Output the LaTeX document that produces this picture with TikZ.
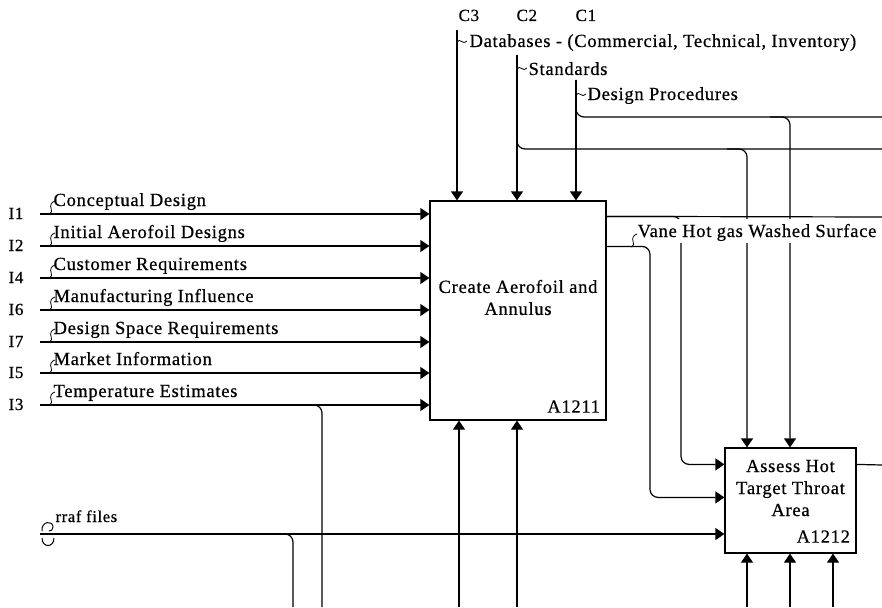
\documentclass[tikz,border=0pt]{standalone}
\usepackage{fontspec}
\setmainfont{Liberation Serif}[LetterSpace=4,FakeBold=0.6]
\usetikzlibrary{arrows.meta,positioning}

\begin{document}
\begin{tikzpicture}[x=1pt,y=-1pt,line width=1.2pt,
    flow/.style={-{Triangle[length=9pt,width=12pt]}},
    wire/.style={rounded corners=8pt},
    lbl/.style={inner sep=0pt,anchor=base west,font=\fontsize{18.5}{22}\selectfont},
    code/.style={inner sep=0pt,anchor=base west,font=\fontsize{17}{18}\selectfont},
    boxtext/.style={align=center,inner sep=0pt,font=\fontsize{18.5}{22}\selectfont},
    squig/.pic={\draw[line width=0.8pt] (0,0) .. controls (3,-1) and (3,-4) .. (2,-6) .. controls (1,-8) and (2,-12) .. (6,-13);},
    tilde/.pic={\draw[line width=0.8pt] (0,0) .. controls (3,-5) and (6,4) .. (10,-1);}
  ]
    \path[use as bounding box,fill=white] (0,0) rectangle (882,607);

    % activity boxes
    \node[draw,fill=white,minimum width=176pt,minimum height=219pt,inner sep=0pt] (a1211) at (518,310.5) {};
    \node[boxtext] (t1211) at ([yshift=13pt]a1211.center) {Create Aerofoil and\\Annulus};
    \node[lbl,anchor=base east] (n1211) at ([xshift=-6pt,yshift=8pt]a1211.south east) {A1211};

    \node[draw,fill=white,minimum width=131pt,minimum height=105pt,inner sep=0pt] (a1212) at (790.5,500.5) {};
    \node[boxtext] (t1212) at ([yshift=12.5pt]a1212.center) {Assess Hot\\Target Throat\\Area};
    \node[lbl,anchor=base east] (n1212) at ([xshift=-6pt,yshift=11pt]a1212.south east) {A1212};

    % inputs
    \coordinate (i1) at (40,214);
    \node[code] (lI1) at (8,219) {I1};
    \draw[flow] (i1) -- (i1 -| a1211.west);
    \pic at ([xshift=9pt]i1) {squig};
    \node[lbl] (tI1) at (53,206) {Conceptual Design};

    \coordinate (i2) at (40,246);
    \node[code] (lI2) at (8,251) {I2};
    \draw[flow] (i2) -- (i2 -| a1211.west);
    \pic at ([xshift=9pt]i2) {squig};
    \node[lbl] (tI2) at (53,238) {Initial Aerofoil Designs};

    \coordinate (i4) at (40,278);
    \node[code] (lI4) at (8,283) {I4};
    \draw[flow] (i4) -- (i4 -| a1211.west);
    \pic at ([xshift=9pt]i4) {squig};
    \node[lbl] (tI4) at (53,270) {Customer Requirements};

    \coordinate (i6) at (40,310);
    \node[code] (lI6) at (8,315) {I6};
    \draw[flow] (i6) -- (i6 -| a1211.west);
    \pic at ([xshift=9pt]i6) {squig};
    \node[lbl] (tI6) at (53,302) {Manufacturing Influence};

    \coordinate (i7) at (40,342);
    \node[code] (lI7) at (8,347) {I7};
    \draw[flow] (i7) -- (i7 -| a1211.west);
    \pic at ([xshift=9pt]i7) {squig};
    \node[lbl] (tI7) at (53,334) {Design Space Requirements};

    \coordinate (i5) at (40,373);
    \node[code] (lI5) at (8,378) {I5};
    \draw[flow] (i5) -- (i5 -| a1211.west);
    \pic at ([xshift=9pt]i5) {squig};
    \node[lbl] (tI5) at (53,365) {Market Information};

    \coordinate (i3) at (40,405);
    \node[code] (lI3) at (8,410) {I3};
    \draw[flow] (i3) -- (i3 -| a1211.west);
    \pic at ([xshift=9pt]i3) {squig};
    \node[lbl] (tI3) at (53,397) {Temperature Estimates};
    \coordinate (i3drop) at (322,607);
    \draw[wire] (i3) -| (i3drop);

    % tunnelled input
    \coordinate (rraf) at (40,534);
    \coordinate (rrafdrop) at (293,607);
    \draw[flow] (rraf) -- (rraf -| a1212.west);
    \draw[wire] (rraf) -| (rrafdrop);
    \draw[line width=1pt] (42,531) .. controls (41,521) and (53,520) .. (53,527) .. controls (53,530) and (51,531) .. (49,531);
    \draw[line width=1pt] (42,538) .. controls (42,548) and (54,548) .. (54,538);
    \node[lbl,font=\fontsize{16.5}{18}\selectfont] (tRraf) at (55,522) {rraf files};

    % controls
    \coordinate (c3) at (457,30);
    \node[code] (lC3) at (458,21) {C3};
    \draw[flow] (c3) -- (c3 |- a1211.north);
    \pic at ([yshift=-12pt]c3) {tilde};
    \node[lbl] (tC3) at (469,47) {Databases - (Commercial, Technical, Inventory)};

    \coordinate (c2) at (517,55);
    \coordinate (c2edge) at (882,149);
    \coordinate (c2drop) at (747,149);
    \node[code] (lC2) at (516,21) {C2};
    \draw[flow] (c2) -- (c2 |- a1211.north);
    \draw[wire] (c2) |- (c2edge);
    \draw[flow,wire] ([xshift=-20pt]c2drop) -| (c2drop |- a1212.north);
    \pic at ([yshift=-14pt]c2) {tilde};
    \node[lbl] (tC2) at (528,75) {Standards};

    \coordinate (c1) at (576,80);
    \coordinate (c1edge) at (882,117);
    \coordinate (c1drop) at (790,117);
    \node[code] (lC1) at (575,21) {C1};
    \draw[flow] (c1) -- (c1 |- a1211.north);
    \draw[wire] (c1) |- (c1edge);
    \draw[flow,wire] ([xshift=-20pt]c1drop) -| (c1drop |- a1212.north);
    \pic at ([yshift=-15pt]c1) {tilde};
    \node[lbl] (tC1) at (587,100) {Design Procedures};

    % outputs
    \coordinate (o1) at ([yshift=-16pt]a1211.north east);
    \coordinate (o2) at ([yshift=-46pt]a1211.north east);
    \coordinate (o1edge) at (882,217);
    \coordinate (v1) at (681,217);
    \coordinate (v2) at (650,247);
    \coordinate (h1) at ([yshift=-17pt]a1212.north west);
    \coordinate (h2) at ([yshift=-50pt]a1212.north west);
    \draw (o1) -- (o1edge);
    \draw[flow,wire] (o1) -| (v1 |- h1) -- (h1);
    \draw[flow,wire] (o2) -| (v2 |- h2) -- (h2);
    \pic at (631,247) {squig};
    \node[lbl,fill=white,text height=18pt,text depth=6pt] (tO2) at (637,237) {Vane Hot gas Washed Surface};

    \coordinate (q1) at ([yshift=-17pt]a1212.north east);
    \coordinate (q1edge) at (882,465);
    \draw (q1) -- (q1edge);

    % mechanisms
    \coordinate (b1) at (459,607);
    \coordinate (b2) at (517,607);
    \draw[flow] (b1) -- (b1 |- a1211.south);
    \draw[flow] (b2) -- (b2 |- a1211.south);

    \coordinate (d1) at (747,607);
    \coordinate (d2) at (790,607);
    \coordinate (d3) at (833,607);
    \draw[flow] (d1) -- (d1 |- a1212.south);
    \draw[flow] (d2) -- (d2 |- a1212.south);
    \draw[flow] (d3) -- (d3 |- a1212.south);
\end{tikzpicture}
\end{document}
